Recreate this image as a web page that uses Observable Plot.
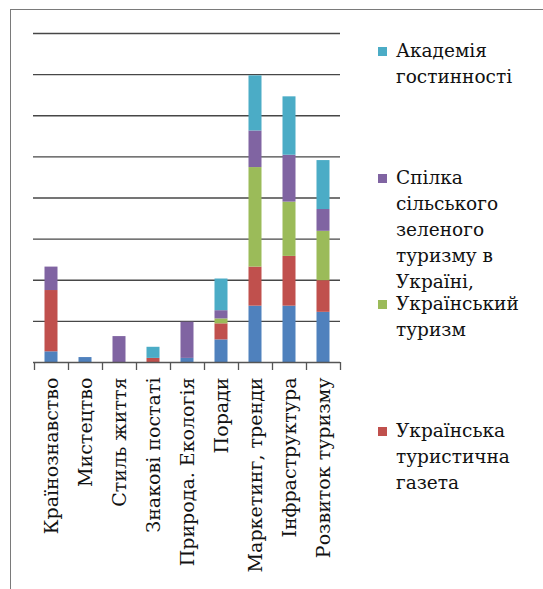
<!DOCTYPE html>
<html><head><meta charset="utf-8">
<script src="https://cdn.jsdelivr.net/npm/d3@7"></script>
<script src="https://cdn.jsdelivr.net/npm/@observablehq/plot@0.6"></script>
<style>
html,body{margin:0;padding:0;background:#fff;width:543px;height:589px;overflow:hidden;}
#wrap{position:relative;width:543px;height:589px;}
#frame{position:absolute;left:10px;top:9px;width:560px;height:620px;border:1px solid #7a7a7a;box-sizing:border-box;}
#chart{position:absolute;left:0;top:0;}
#legend{position:absolute;left:378px;top:0;width:165px;}
.item{position:absolute;left:0;display:flex;align-items:flex-start;font-family:"DejaVu Serif";font-size:18.5px;line-height:26px;color:#111;white-space:nowrap;}
.sw{width:9px;height:9px;margin-top:9px;margin-right:9px;flex:none;}
</style></head><body>
<div id="wrap"><div id="frame"></div><div id="chart"></div><div id="legend"></div></div>
<script>
const categories = ["Країнознавство","Мистецтво","Стиль життя","Знакові постаті","Природа. Екологія","Поради","Маркетинг, тренди","Інфраструктура","Розвиток туризму"];
// stacking order: bottom -> top
const seriesNames = ["Інше","Українська туристична газета","Український туризм","Спілка сільського зеленого туризму в Україні,","Академія гостинності"];
const seriesColors = ["#4F81BD","#C0504D","#9BBB59","#8064A2","#4BACC6"];
const blueValues   = [2.6, 1.2, 0,   0,   1.0, 5.5, 13.7, 13.7, 12.2];
const redValues    = [14.9, 0,  0,   1.0, 0,   3.9, 9.5,  12.1, 7.7];
const greenValues  = [0,    0,  0,   0,   0,   1.2, 24.2, 13.2, 12.0];
const purpleValues = [5.7,  0,  6.3, 0,   8.8, 2.0, 8.9,  11.4, 5.3];
const cyanValues   = [0,    0,  0,   2.7, 0,   7.7, 13.4, 14.2, 11.9];
const seriesValues = [blueValues, redValues, greenValues, purpleValues, cyanValues];
const gridValues = [10,20,30,40,50,60,70,80];
// legend entries (top to bottom) with their visible line breaks
const legendSeries = [4, 3, 2, 1];
const legendLines = [["Академія","гостинності"],["Спілка","сільського","зеленого","туризму в","Україні,"],["Український","туризм"],["Українська","туристична","газета"]];

const rows = [];
seriesNames.forEach((s, si) => seriesValues[si].forEach((v, ci) => {
  if (v > 0) rows.push({category: categories[ci], series: s, value: v});
}));

const chart = Plot.plot({
  width: 360, height: 589,
  marginLeft: 33, marginRight: 20, marginTop: 33, marginBottom: 227,
  x: {type: "band", domain: categories, padding: 0, label: null, axis: null},
  y: {domain: [0, 80], label: null, axis: null},
  color: {domain: seriesNames, range: seriesColors},
  style: {fontFamily: "DejaVu Serif", fontSize: "19px", color: "#111", background: "transparent", overflow: "visible"},
  marks: [
    Plot.ruleY(gridValues, {stroke: "#474747", strokeWidth: 1.4}),
    Plot.barY(rows, {x: "category", y: "value", fill: "series", insetLeft: 10.5, insetRight: 10.5}),
    Plot.ruleY([0], {stroke: "#555", strokeWidth: 1.5}),
    Plot.ruleX(categories, {x: d => d, dx: -17, insetTop: 329, insetBottom: -8, stroke: "#555", strokeWidth: 1.3}),
    Plot.ruleX(categories.slice(-1), {x: d => d, dx: 17, insetTop: 329, insetBottom: -8, stroke: "#555", strokeWidth: 1.3}),
    Plot.axisX({tickSize: 0, tickRotate: -90, tickPadding: 15, fontSize: 19, fill: "#111", label: null})
  ]
});
document.getElementById("chart").appendChild(chart);

const legend = document.getElementById("legend");
legendSeries.forEach((si, k) => {
  const item = document.createElement("div");
  item.className = "item";
  item.style.top = (38 + k * 126.5) + "px";
  const sw = document.createElement("div");
  sw.className = "sw";
  sw.style.background = seriesColors[si];
  const txt = document.createElement("div");
  legendLines[k].forEach((line, li) => {
    if (li) txt.appendChild(document.createElement("br"));
    txt.appendChild(document.createTextNode(line));
  });
  item.appendChild(sw);
  item.appendChild(txt);
  legend.appendChild(item);
});
</script>
</body></html>
